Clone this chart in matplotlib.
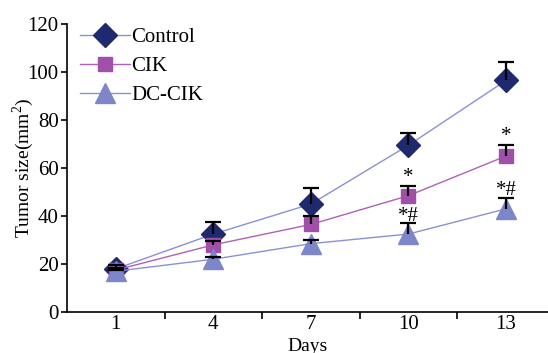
import numpy as np
import matplotlib
matplotlib.use('agg')
import matplotlib.pyplot as plt

plt.rcParams['font.family'] = ['Liberation Serif', 'DejaVu Serif']
plt.rcParams['mathtext.fontset'] = 'custom'
plt.rcParams['mathtext.rm'] = 'Liberation Serif'

# data
days = ['1', '4', '7', '10', '13']
control = [18, 32.5, 45, 69.5, 96.5]
control_err = [1.5, 5, 6.5, 5, 7.5]
cik = [17.5, 28, 36.5, 48.5, 65]
cik_err = [0.8, 1.5, 3.5, 4, 4.5]
dccik = [17, 22, 28.5, 32.5, 43]
dccik_err = [0.5, 1, 1.5, 4.5, 4.5]
cik_marks = ['', '', '', '*', '*']
dccik_marks = ['', '', '', '*#', '*#']

x = np.arange(len(days))

fig = plt.figure(figsize=(5.48, 3.53), dpi=100)
ax = fig.add_axes([0.1223, 0.116, 0.8777, 0.816])

lw = 1.0
ax.plot(x, control, color='#8a90d8', lw=lw, marker='D', ms=12,
        mfc='#1f2a6e', mec='#1f2a6e', label='Control', zorder=3)
ax.plot(x, cik, color='#b060b8', lw=lw, marker='s', ms=10,
        mfc='#a050a8', mec='#a050a8', label='CIK', zorder=3)
ax.plot(x, dccik, color='#8a90d8', lw=lw, marker='^', ms=15,
        mfc='#7c86c8', mec='#7c86c8', label='DC-CIK', zorder=3)

# upper error bars only
for vals, errs in [(control, control_err), (cik, cik_err), (dccik, dccik_err)]:
    eb = ax.errorbar(x, vals, yerr=[np.zeros(len(errs)), errs], fmt='none',
                     ecolor='black', elinewidth=1.6, capsize=6, capthick=1.6, zorder=4)
    eb[1][0].set_visible(False)

# significance marks
for i, m in enumerate(cik_marks):
    if m:
        ax.text(x[i], cik[i] + cik_err[i] - 0.5, m, ha='center', va='bottom',
                fontsize=15)
for i, m in enumerate(dccik_marks):
    if m:
        ax.text(x[i], dccik[i] + dccik_err[i] - 1.0, m, ha='center', va='bottom',
                fontsize=15)

ax.set_xlim(-0.5, 4.43)
ax.set_ylim(0, 120)
ax.set_yticks(np.arange(0, 121, 20))
ax.set_xticks(x)
ax.set_xticklabels(days, fontsize=15)
ax.set_xticks(np.arange(0.5, 4.5, 1), minor=True)
ax.tick_params(axis='x', which='major', length=0, pad=2)
ax.tick_params(axis='x', which='minor', length=5, width=1.2, direction='out')
ax.tick_params(axis='y', labelsize=15, length=4, width=1.2, direction='out', pad=2)

for s in ['top', 'right']:
    ax.spines[s].set_visible(False)
for s in ['left', 'bottom']:
    ax.spines[s].set_linewidth(1.2)

ax.set_ylabel('Tumor size(mm$^2$)', fontsize=14, ha='center', va='center')
ax.yaxis.set_label_coords(-0.092, 0.5)
ax.set_xlabel('Days', fontsize=14, ha='center', va='center')
ax.xaxis.set_label_coords(0.5, -0.118)

ax.legend(loc='upper left', bbox_to_anchor=(0.0, 1.03), frameon=False,
          prop={'size': 15}, handlelength=2.4,
          handletextpad=0.1, labelspacing=0.45, borderaxespad=0.2)

fig.savefig('out.png', dpi=100)
